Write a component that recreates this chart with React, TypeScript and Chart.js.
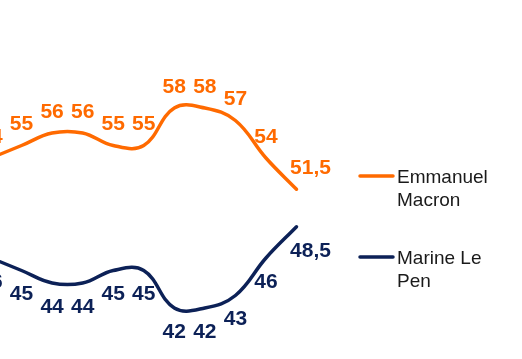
import React, { useEffect, useRef } from 'react';
import { Chart, registerables } from 'chart.js';

Chart.register(...registerables);

// Data (the chart is a crop: only the visible part of the series is kept)
const waves = ['V1', 'V2', 'V3', 'V4', 'V5', 'V6', 'V7', 'V8', 'V9', 'V10', 'V11'];
const macron = [54, 55, 56, 56, 55, 55, 58, 58, 57, 54, 51.5];
const lePen = [46, 45, 44, 44, 45, 45, 42, 42, 43, 46, 48.5];
const seriesNames = [['Emmanuel', 'Macron'], ['Marine Le', 'Pen']];
const seriesColors = ['#ff6a00', '#0c2157'];

const FONT = '"Liberation Sans", Arial, Helvetica, sans-serif';
const fmt = (v: number) => String(v).replace('.', ',');

const labelPlugin = {
  id: 'pointLabelsAndLegend',
  afterDatasetsDraw(chart: any) {
    const ctx = chart.ctx;
    ctx.save();
    ctx.font = `bold 21px ${FONT}`;
    ctx.textAlign = 'center';
    ctx.textBaseline = 'middle';
    chart.data.datasets.forEach((ds: any, di: number) => {
      const meta = chart.getDatasetMeta(di);
      const dy = di === 0 ? -21 : 24;
      meta.data.forEach((pt: any, i: number) => {
        const last = i === meta.data.length - 1;
        ctx.fillStyle = ds.borderColor;
        ctx.fillText(fmt(ds.data[i]), pt.x + (last ? 14 : 0), pt.y + dy);
      });
    });

    // legend (custom, two-line labels)
    const lx = chart.chartArea.right + 63.5;
    const rows = [176, 257];
    ctx.textAlign = 'left';
    ctx.textBaseline = 'alphabetic';
    ctx.font = `19px ${FONT}`;
    chart.data.datasets.forEach((ds: any, di: number) => {
      const y = rows[di];
      ctx.strokeStyle = ds.borderColor;
      ctx.lineWidth = 3.5;
      ctx.lineCap = 'round';
      ctx.beginPath();
      ctx.moveTo(lx, y);
      ctx.lineTo(lx + 33, y);
      ctx.stroke();
      ctx.fillStyle = '#1a1a1a';
      seriesNames[di].forEach((line, li) => {
        ctx.fillText(line, lx + 37, y + 7 + li * 23);
      });
    });
    ctx.restore();
  },
};

export default function App() {
  const ref = useRef<HTMLCanvasElement>(null);

  useEffect(() => {
    if (!ref.current) return;
    const chart = new Chart(ref.current, {
      type: 'line',
      data: {
        labels: waves,
        datasets: [
          {
            label: seriesNames[0].join(' '),
            data: macron,
            borderColor: seriesColors[0],
            backgroundColor: seriesColors[0],
            borderWidth: 3.5,
            tension: 0.4,
            pointRadius: 0,
            borderCapStyle: 'round',
            clip: false,
          },
          {
            label: seriesNames[1].join(' '),
            data: lePen,
            borderColor: seriesColors[1],
            backgroundColor: seriesColors[1],
            borderWidth: 3.5,
            tension: 0.4,
            pointRadius: 0,
            borderCapStyle: 'round',
            clip: false,
          },
        ],
      },
      options: {
        animation: false,
        responsive: false,
        layout: { padding: { left: 11, right: 225.5, top: 83, bottom: 26 } },
        scales: {
          x: { display: false, offset: false },
          y: { display: false, min: 40, max: 60 },
        },
        plugins: {
          legend: { display: false },
          tooltip: { enabled: false },
        },
      } as any,
      plugins: [labelPlugin],
    });
    return () => chart.destroy();
  }, []);

  return (
    <div
      style={{
        position: 'fixed',
        left: 0,
        top: 0,
        width: 522,
        height: 359,
        overflow: 'hidden',
        background: '#fff',
      }}
    >
      <canvas
        ref={ref}
        width={542}
        height={359}
        style={{ position: 'absolute', left: -20, top: 0, width: 542, height: 359 }}
      />
    </div>
  );
}
